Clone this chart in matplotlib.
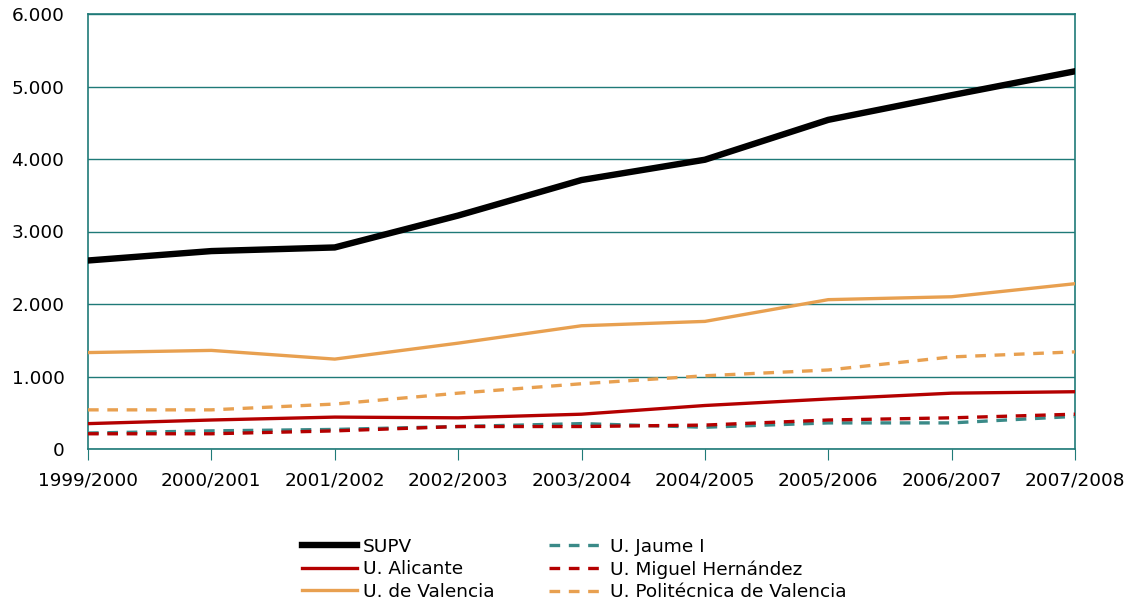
import matplotlib.pyplot as plt
from matplotlib.ticker import FuncFormatter

years = ["1999/2000", "2000/2001", "2001/2002", "2002/2003", "2003/2004",
         "2004/2005", "2005/2006", "2006/2007", "2007/2008"]
supv = [2600, 2730, 2780, 3220, 3710, 3990, 4540, 4880, 5210]
alicante = [350, 400, 440, 430, 480, 600, 690, 770, 790]
valencia = [1330, 1360, 1240, 1460, 1700, 1760, 2060, 2100, 2280]
jaume = [220, 250, 270, 310, 350, 300, 360, 360, 450]
miguel = [210, 210, 250, 310, 310, 330, 400, 430, 480]
upv = [540, 540, 620, 770, 900, 1010, 1090, 1270, 1340]

teal = "#1f7a78"
plt.rcParams['font.family'] = ['DejaVu Sans']

fig = plt.figure(figsize=(11.37, 6.08), dpi=100)
ax = fig.add_axes([88 / 1137, 1 - 449 / 608, (1075 - 88) / 1137, (449 - 14) / 608])

x = range(len(years))
dash = (3.2, 2.6)
ax.plot(x, jaume, color="#3a8a88", lw=2.4, dashes=dash, label="U. Jaume I", zorder=3)
ax.plot(x, miguel, color="#b40000", lw=2.4, dashes=dash, label="U. Miguel Hernández", zorder=3)
ax.plot(x, upv, color="#e8a050", lw=2.4, dashes=dash, label="U. Politécnica de Valencia", zorder=3)
ax.plot(x, alicante, color="#b40000", lw=2.4, label="U. Alicante", zorder=4)
ax.plot(x, valencia, color="#e8a050", lw=2.4, label="U. de Valencia", zorder=4)
ax.plot(x, supv, color="black", lw=4.6, label="SUPV", zorder=5)

ax.set_xlim(0, len(years) - 1)
ax.set_ylim(0, 6000)
ax.set_yticks(range(0, 6001, 1000))
ax.yaxis.set_major_formatter(FuncFormatter(lambda v, p: f"{int(v):,}".replace(",", ".")))
ax.set_xticks(list(x))
ax.set_xticklabels(years)
ax.grid(axis="y", color=teal, lw=1)
ax.set_axisbelow(True)
for s in ax.spines.values():
    s.set_color(teal)
    s.set_linewidth(1.2)
ax.tick_params(axis="x", colors=teal, length=8, direction="out", labelcolor="black",
               labelsize=13.3, pad=8)
ax.tick_params(axis="y", length=0, labelsize=13.3, pad=17)

handles, labels = ax.get_legend_handles_labels()
order = ["SUPV", "U. Alicante", "U. de Valencia", "U. Jaume I", "U. Miguel Hernández",
         "U. Politécnica de Valencia"]
hmap = dict(zip(labels, handles))
fig.legend([hmap[k] for k in order], order, loc="upper left", ncol=2, frameon=False,
           bbox_to_anchor=(285 / 1137, 1 - 521 / 608), fontsize=13.3, handlelength=3,
           labelspacing=0.25, columnspacing=2.95, handletextpad=0.3)

fig.savefig("out.png", dpi=100)
